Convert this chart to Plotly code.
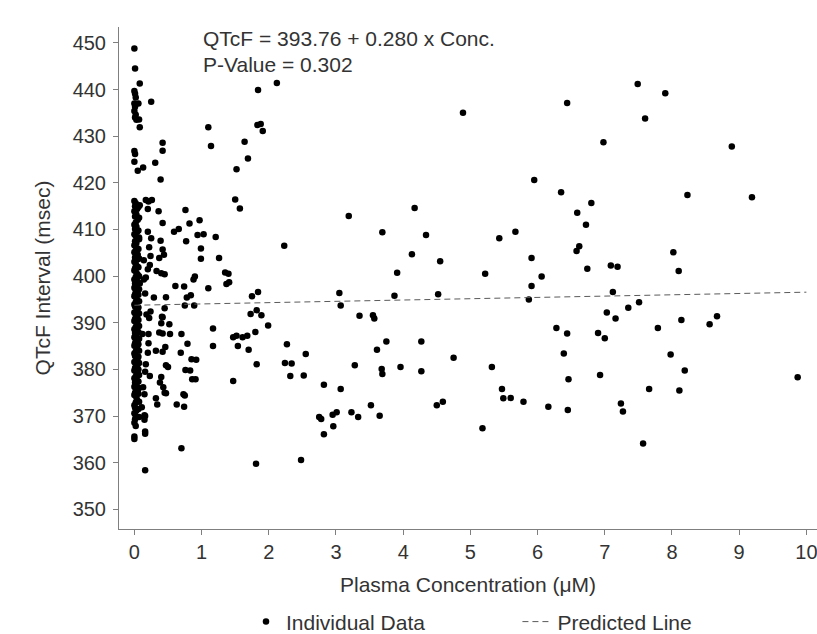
import plotly.graph_objects as go

# Pre-dose / near-zero concentration samples (dense column at the origin)
conc_zero = [0.00, 0.02, 0.01, 0.04, 0.00, 0.03, 0.01, 0.05, 0.02, 0.00,
             0.03, 0.01, 0.04, 0.00, 0.02, 0.05, 0.01, 0.03, 0.00, 0.04,
             0.02, 0.00, 0.05, 0.01, 0.03, 0.00, 0.02, 0.04, 0.01, 0.00,
             0.03, 0.05, 0.02, 0.00, 0.04, 0.01, 0.03, 0.00, 0.02, 0.05,
             0.01, 0.00, 0.03, 0.04, 0.02, 0.00, 0.01, 0.05, 0.03, 0.00,
             0.02, 0.04, 0.01, 0.00, 0.03, 0.05, 0.02, 0.00, 0.04, 0.01,
             0.03, 0.00, 0.02, 0.05, 0.01, 0.00, 0.04, 0.03, 0.02, 0.00,
             0.01, 0.05, 0.03, 0.00, 0.02, 0.04, 0.01, 0.00, 0.03, 0.05,
             0.02, 0.00, 0.04, 0.01, 0.03, 0.00, 0.02, 0.05, 0.01, 0.00,
             0.03, 0.04, 0.02, 0.00, 0.01, 0.03, 0.00, 0.02, 0.01, 0.00,
             0.02,
             0.06, 0.07, 0.06, 0.07, 0.06, 0.07, 0.06, 0.07, 0.06, 0.07,
             0.06, 0.07, 0.06, 0.07, 0.06, 0.07, 0.06, 0.07, 0.06, 0.07,
             0.06, 0.07, 0.06, 0.07, 0.06, 0.07, 0.06, 0.07, 0.06, 0.07]
qtcf_zero = [416.1, 415.6, 415.0, 414.4, 413.9, 413.2, 412.8, 412.1, 411.5, 411.0,
             410.6, 410.1, 409.5, 409.0, 408.6, 408.0, 407.5, 407.1, 406.6, 406.0,
             405.5, 405.1, 404.6, 404.0, 403.5, 403.1, 402.6, 402.1, 401.7, 401.2,
             400.7, 400.3, 399.8, 399.3, 398.9, 398.4, 397.9, 397.5, 397.0, 396.6,
             396.1, 395.7, 395.2, 394.8, 394.4, 393.9, 393.5, 393.0, 392.6, 392.2,
             391.7, 391.3, 390.8, 390.4, 390.0, 389.5, 389.1, 388.6, 388.2, 387.8,
             387.3, 386.9, 386.4, 386.0, 385.6, 385.1, 384.7, 384.2, 383.8, 383.4,
             382.9, 382.5, 382.0, 381.6, 381.2, 380.7, 380.3, 379.8, 379.4, 379.0,
             378.5, 378.1, 377.6, 377.2, 376.8, 376.3, 375.9, 375.4, 375.0, 374.5,
             374.0, 373.4, 372.9, 372.3, 371.8, 371.2, 370.6, 370.0, 369.3, 368.6,
             367.9,
             414.8, 412.5, 409.8, 407.9, 405.8, 403.8, 401.9, 400.0, 398.6, 397.2,
             396.0, 394.6, 393.3, 392.0, 390.6, 389.3, 388.0, 386.6, 385.4, 384.0,
             382.7, 381.4, 380.0, 378.8, 377.4, 376.0, 374.8, 373.1, 371.5, 369.8]

# Low concentrations (0 - 0.6 uM)
conc_low = [0.00, 0.01, 0.08, 0.00, 0.01, 0.02, 0.00, 0.06, 0.01, 0.00,
            0.02, 0.01, 0.03, 0.07, 0.08, 0.25, 0.00, 0.01, 0.00, 0.05,
            0.13, 0.31, 0.42, 0.42, 0.39, 0.17, 0.21, 0.26, 0.08, 0.20,
            0.36, 0.42, 0.20, 0.07, 0.25, 0.39, 0.22, 0.42, 0.44, 0.24,
            0.37, 0.14, 0.05, 0.23, 0.20, 0.33, 0.40, 0.45, 0.17, 0.14,
            0.08, 0.16, 0.29, 0.47, 0.18, 0.24, 0.45, 0.42, 0.40, 0.52,
            0.22, 0.41, 0.12, 0.21, 0.37, 0.42, 0.53, 0.21, 0.32, 0.42,
            0.46, 0.20, 0.17, 0.50, 0.47, 0.16, 0.23, 0.40, 0.38, 0.04,
            0.43, 0.45, 0.47, 0.15, 0.32, 0.34, 0.11, 0.15, 0.16, 0.15,
            0.16, 0.16, 0.00, 0.00, 0.16, 0.13]
qtcf_low = [448.8, 444.5, 441.3, 439.7, 439.1, 438.3, 437.0, 437.0, 436.3, 435.4,
            434.6, 434.0, 433.5, 433.6, 431.9, 437.4, 426.8, 426.2, 424.5, 422.6,
            423.3, 424.3, 428.6, 426.9, 420.7, 416.3, 416.0, 416.3, 415.2, 414.4,
            413.9, 411.4, 409.5, 408.3, 408.1, 407.6, 406.2, 405.7, 404.6, 404.3,
            403.9, 403.4, 403.6, 402.4, 401.5, 401.1, 400.6, 400.4, 399.7, 399.3,
            398.4, 396.3, 395.4, 395.5, 391.8, 392.4, 393.1, 391.2, 389.9, 389.7,
            391.0, 391.3, 387.6, 387.6, 387.9, 387.7, 387.6, 385.6, 384.0, 383.8,
            384.8, 383.6, 381.1, 380.5, 380.9, 379.5, 378.6, 378.4, 377.2, 377.5,
            376.2, 375.0, 374.9, 374.7, 373.8, 372.5, 371.9, 370.2, 370.0, 369.2,
            366.7, 366.2, 365.6, 365.1, 358.4, 376.2]

# Mid concentrations (0.6 - 3 uM)
conc_mid = [0.61, 0.74, 0.88, 0.90, 1.10, 1.37, 1.41, 0.78, 0.84, 0.75,
            0.89, 1.75, 1.84, 1.73, 1.82, 1.89, 1.99, 0.70, 1.17, 1.47,
            1.52, 1.61, 1.68, 1.80, 0.79, 1.17, 1.54, 1.70, 2.27, 2.55,
            0.69, 0.85, 0.92, 2.24, 2.34, 1.82, 0.76, 0.83, 2.32, 2.52,
            0.86, 0.91, 1.47, 0.73, 0.75, 0.63, 0.74, 0.70, 1.81, 2.48,
            1.84, 2.12, 1.83, 1.88, 1.91, 1.10, 1.14, 1.64, 1.69, 1.52,
            1.50, 1.57, 0.76, 0.97, 0.82, 0.59, 0.66, 0.94, 1.03, 1.21,
            0.77, 0.99, 1.26, 0.99, 1.35, 1.40, 2.23]
qtcf_mid = [397.9, 397.8, 399.3, 399.9, 397.4, 398.3, 398.7, 395.4, 395.9, 393.7,
            393.7, 395.7, 396.6, 391.9, 392.7, 391.6, 389.4, 387.6, 388.8, 386.9,
            387.2, 386.9, 387.2, 388.0, 385.5, 385.0, 385.0, 384.2, 385.4, 383.3,
            383.6, 382.2, 382.1, 381.4, 381.3, 381.1, 379.9, 379.8, 378.6, 378.7,
            377.9, 377.9, 377.5, 374.7, 374.4, 372.5, 372.0, 363.1, 359.8, 360.6,
            439.9, 441.4, 432.4, 432.6, 431.1, 431.9, 427.9, 428.8, 425.2, 422.9,
            416.4, 414.5, 414.2, 412.0, 411.3, 409.5, 410.1, 408.8, 409.0, 408.4,
            407.5, 405.9, 403.9, 403.7, 400.8, 400.5, 406.5]

# High concentrations (above 2.7 uM)
conc_high = [3.05, 3.07, 3.19, 3.35, 3.55, 3.57, 3.69, 3.87, 3.91, 4.13,
             4.17, 4.34, 4.52, 4.55, 4.89, 5.22, 5.43, 5.67, 5.87, 5.91,
             5.91, 5.95, 6.06, 6.35, 6.44, 6.58, 6.62, 6.59, 6.72, 6.74,
             6.80, 6.98, 7.03, 7.09, 7.12, 7.16, 7.19, 7.35, 7.49, 7.51,
             7.60, 7.79, 7.90, 8.02, 8.10, 8.14, 8.23, 8.56, 8.67, 8.89,
             9.19, 6.28, 6.44, 6.90, 7.00, 6.39, 7.98, 8.19, 6.93, 6.46,
             7.66, 8.11, 7.24, 7.27, 6.45, 6.16, 7.57, 9.87, 4.75, 5.32,
             5.47, 5.49, 5.60, 5.79, 5.18, 4.50, 4.59, 4.27, 4.27, 3.96,
             3.75, 3.61, 3.68, 3.69, 3.52, 3.65, 3.28, 3.07, 3.23, 3.33,
             3.01, 2.95, 2.75, 2.78, 2.96, 2.82, 2.82]
qtcf_high = [396.4, 393.7, 412.9, 391.5, 391.6, 390.9, 409.4, 395.8, 400.7, 404.7,
             414.6, 408.8, 396.1, 403.2, 435.0, 400.5, 408.1, 409.5, 395.0, 397.9,
             403.9, 420.6, 399.9, 418.0, 437.1, 405.4, 406.4, 413.6, 411.0, 401.6,
             415.7, 428.7, 392.2, 402.3, 396.6, 390.9, 402.0, 393.2, 441.2, 394.4,
             433.8, 388.9, 439.2, 405.1, 401.1, 390.6, 417.4, 389.7, 391.4, 427.8,
             416.9, 388.9, 387.7, 387.8, 386.7, 383.4, 383.2, 379.8, 378.8, 377.9,
             375.8, 375.5, 372.7, 371.0, 371.3, 372.0, 364.1, 378.3, 382.5, 380.5,
             375.8, 373.8, 373.9, 373.1, 367.4, 372.3, 373.1, 386.0, 379.6, 380.5,
             386.0, 384.2, 380.1, 379.0, 372.3, 370.1, 380.9, 375.8, 370.8, 369.8,
             370.8, 370.3, 369.8, 369.4, 367.8, 366.1, 376.7]

# Linear model fit
intercept = 393.76
slope = 0.280
p_value = 0.302
line_conc = [0.0, 10.0]

x_ticks = [0, 1, 2, 3, 4, 5, 6, 7, 8, 9, 10]
y_ticks = [350, 360, 370, 380, 390, 400, 410, 420, 430, 440, 450]

all_conc = conc_zero + conc_low + conc_mid + conc_high
all_qtcf = qtcf_zero + qtcf_low + qtcf_mid + qtcf_high
line_qtcf = [intercept + slope * c for c in line_conc]

FONT = "Liberation Sans, Arial, sans-serif"
TXT = "#333333"
AXC = "#7f7f7f"
FS_TICK = 20
FS = 21

NBSP = "\u00a0"

fig = go.Figure()
fig.add_trace(go.Scatter(
    x=all_conc, y=all_qtcf, mode="markers",
    name="Individual Data" + NBSP * 15,
    marker=dict(color="black", size=6.5, line=dict(width=0)),
))
fig.add_trace(go.Scatter(
    x=line_conc, y=line_qtcf, mode="lines", name="Predicted Line",
    line=dict(color="#5a5a5a", width=1, dash="6px,4px"),
))

fig.add_annotation(
    xref="paper", yref="paper", x=0.117, y=0.978, xanchor="left", yanchor="middle",
    text=f"QTcF = {intercept:.2f} + {slope:.3f} x Conc.", showarrow=False,
    font=dict(family=FONT, size=FS, color=TXT),
)
fig.add_annotation(
    xref="paper", yref="paper", x=0.117, y=0.926, xanchor="left", yanchor="middle",
    text=f"P-Value = {p_value:.3f}", showarrow=False,
    font=dict(family=FONT, size=FS, color=TXT),
)

fig.update_layout(
    width=817, height=634,
    margin=dict(l=119, r=0, t=27, b=105, autoexpand=False),
    paper_bgcolor="white", plot_bgcolor="white",
    font=dict(family=FONT, size=FS, color=TXT),
    showlegend=True,
    legend=dict(orientation="h", x=0.505, xanchor="center",
                yref="container", y=0.019, yanchor="middle",
                font=dict(family=FONT, size=FS, color=TXT), itemwidth=30,
                tracegroupgap=0),
    xaxis=dict(
        range=[-0.229, 10.158], tickvals=x_ticks, ticks="outside", ticklen=5,
        tickcolor=AXC, showline=True, linecolor=AXC, linewidth=1,
        showgrid=False, zeroline=False, tickfont=dict(size=FS_TICK, color=TXT),
        ticklabelstandoff=0, ticklabeloverflow="allow", automargin=False,
        title=dict(text="Plasma Concentration (μM)", font=dict(size=FS, color=TXT), standoff=15),
    ),
    yaxis=dict(
        range=[345.8, 453.4], tickvals=y_ticks, ticks="outside", ticklen=5,
        tickcolor=AXC, showline=True, linecolor=AXC, linewidth=1,
        showgrid=False, zeroline=False, tickfont=dict(size=FS_TICK, color=TXT),
        ticklabelstandoff=3, automargin=False,
        title=dict(text="QTcF Interval (msec)", font=dict(size=FS, color=TXT), standoff=16),
    ),
)

fig.write_html("out.html")
